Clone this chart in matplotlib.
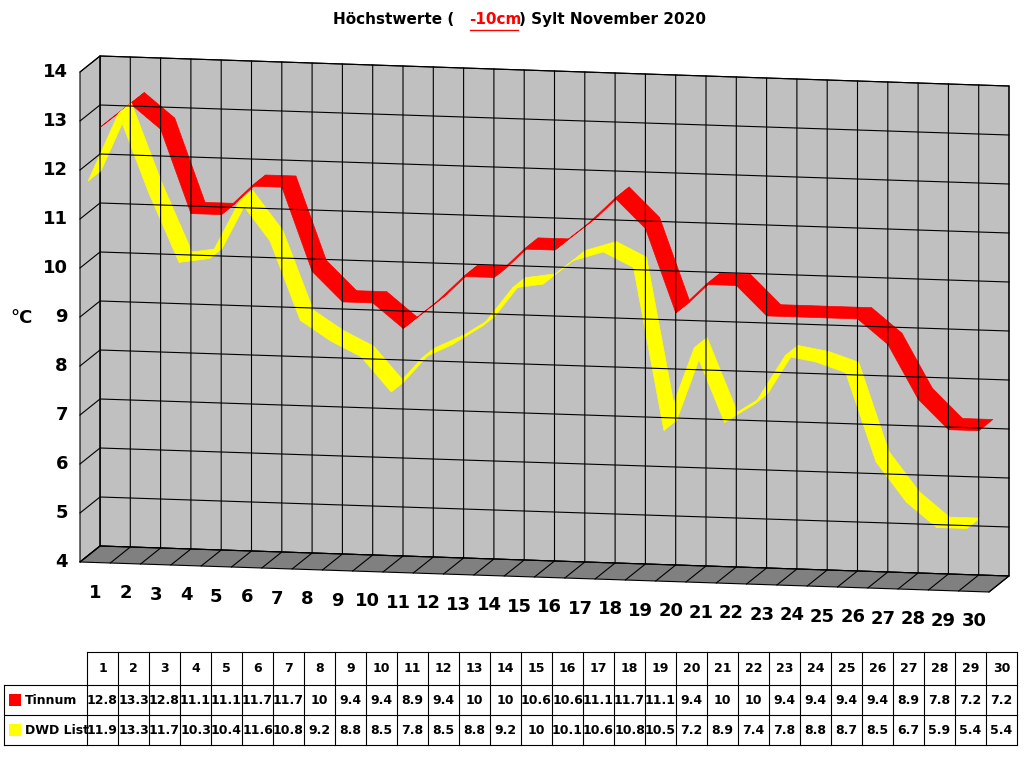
import matplotlib
matplotlib.use("Agg")
import matplotlib.pyplot as plt
from matplotlib.patches import Polygon, Rectangle

days = list(range(1, 31))
tinnum = [12.8, 13.3, 12.8, 11.1, 11.1, 11.7, 11.7, 10, 9.4, 9.4, 8.9, 9.4, 10, 10, 10.6,
          10.6, 11.1, 11.7, 11.1, 9.4, 10, 10, 9.4, 9.4, 9.4, 9.4, 8.9, 7.8, 7.2, 7.2]
dwd = [11.9, 13.3, 11.7, 10.3, 10.4, 11.6, 10.8, 9.2, 8.8, 8.5, 7.8, 8.5, 8.8, 9.2, 10,
       10.1, 10.6, 10.8, 10.5, 7.2, 8.9, 7.4, 7.8, 8.8, 8.7, 8.5, 6.7, 5.9, 5.4, 5.4]
yticks = list(range(4, 15))


def proj(u, t, d):
    # pseudo 3d: u = category pos, t = temperature, d = depth 0..1
    return 80 + u * 30.3 + d * 20, 562 - (t - 4) * 49 + u * 1.0 - d * 16


fig = plt.figure(figsize=(10.24, 7.68), dpi=100)
ax = fig.add_axes([0, 0, 1, 1])
ax.set_xlim(0, 1024)
ax.set_ylim(768, 0)
ax.axis("off")

# back wall
wall = [proj(0, 4, 1), proj(30, 4, 1), proj(30, 14, 1), proj(0, 14, 1)]
ax.add_patch(Polygon(wall, fc="#c0c0c0", ec="black", lw=0.8))
left = [proj(0, 4, 0), proj(0, 4, 1), proj(0, 14, 1), proj(0, 14, 0)]
ax.add_patch(Polygon(left, fc="#c0c0c0", ec="black", lw=0.8))
floor = [proj(0, 4, 0), proj(30, 4, 0), proj(30, 4, 1), proj(0, 4, 1)]
ax.add_patch(Polygon(floor, fc="#808080", ec="black", lw=0.8))
for t in yticks:
    a, b, c = proj(0, t, 0), proj(0, t, 1), proj(30, t, 1)
    ax.plot([a[0], b[0], c[0]], [a[1], b[1], c[1]], color="black", lw=0.8)
    ax.text(a[0] - 12, a[1], str(t), ha="right", va="center", fontsize=13, fontweight="bold")
for u in range(31):
    a, b, c = proj(u, 4, 0), proj(u, 4, 1), proj(u, 14, 1)
    ax.plot([a[0], b[0], c[0]], [a[1], b[1], c[1]], color="black", lw=0.8)
for i, dnum in enumerate(days):
    p = proj(i + 0.5, 4, 0)
    ax.text(p[0], p[1] + 30, str(dnum), ha="center", va="center", fontsize=13, fontweight="bold")


def ribbon(vals, d0, d1, col):
    for i in range(len(vals) - 1):
        pts = [proj(i + 0.5, vals[i], d0), proj(i + 1.5, vals[i + 1], d0),
               proj(i + 1.5, vals[i + 1], d1), proj(i + 0.5, vals[i], d1)]
        ax.add_patch(Polygon(pts, fc=col, ec=col, lw=0.5))


ribbon(tinnum, 0.25, 0.95, "#ff0000")
ribbon(dwd, -0.35, 0.3, "#ffff00")

ax.text(22, 318, "°C", ha="center", va="center", fontsize=13, fontweight="bold")

# title
fig.text(0.325, 0.974, "Höchstwerte (", ha="left", va="center", fontsize=11, fontweight="bold")
fig.text(0.4585, 0.974, "-10cm", ha="left", va="center", fontsize=11, fontweight="bold", color="red")
ax.plot([470, 518], [30, 30], color="red", lw=1)
fig.text(0.507, 0.974, ") Sylt November 2020", ha="left", va="center", fontsize=11, fontweight="bold")

# data table
x0, cw = 87, 31
rows = [652, 685, 715, 745]
for r in rows:
    ax.plot([x0 if r == rows[0] else 4, x0 + 30 * cw], [r, r], color="black", lw=0.8)
for c in range(31):
    ax.plot([x0 + c * cw] * 2, [rows[0], rows[-1]], color="black", lw=0.8)
ax.plot([4, 4], [rows[1], rows[-1]], color="black", lw=0.8)
for i in range(30):
    cx = x0 + (i + 0.5) * cw
    ax.text(cx, 668, str(days[i]), ha="center", va="center", fontsize=9, fontweight="bold")
    ax.text(cx, 700, f"{tinnum[i]:g}", ha="center", va="center", fontsize=9, fontweight="bold")
    ax.text(cx, 730, f"{dwd[i]:g}", ha="center", va="center", fontsize=9, fontweight="bold")
for yy, name, col in [(700, "Tinnum", "#ff0000"), (730, "DWD List", "#ffff00")]:
    ax.add_patch(Rectangle((9, yy - 6), 12, 12, fc=col, ec="none"))
    ax.text(25, yy, name, ha="left", va="center", fontsize=9, fontweight="bold")

fig.savefig("out.png", dpi=100)
